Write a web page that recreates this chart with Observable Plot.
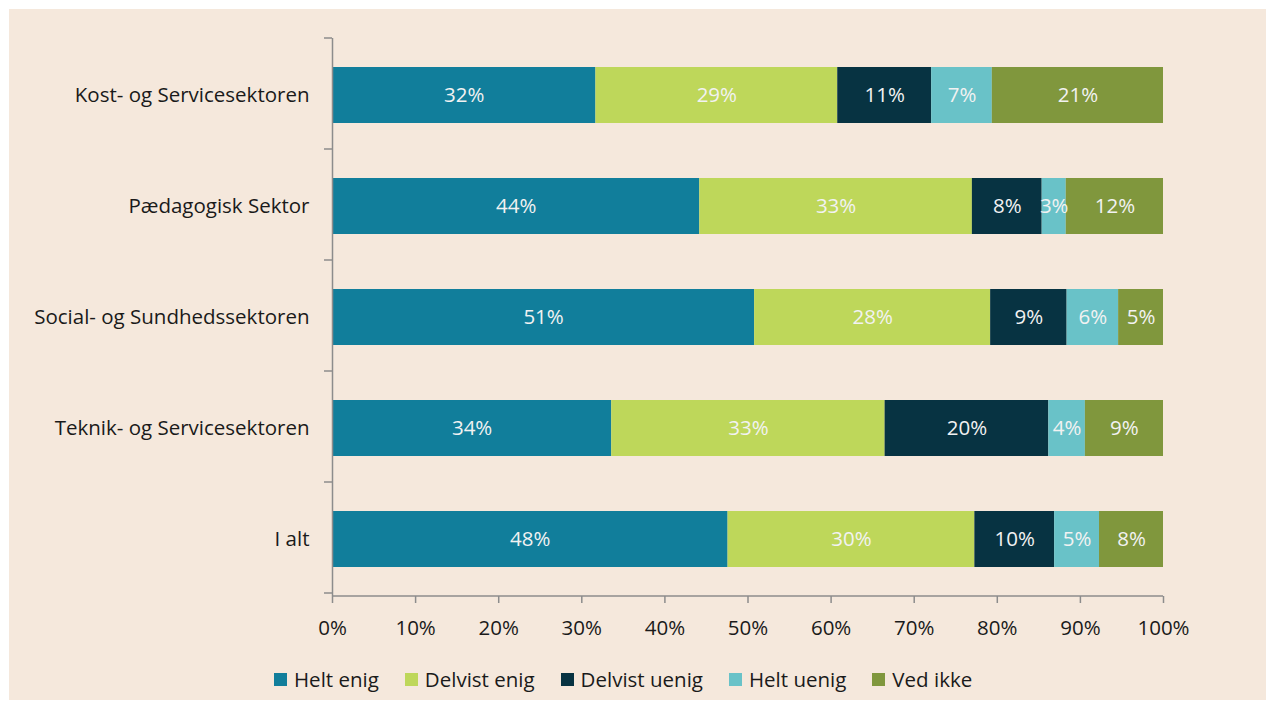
<!DOCTYPE html>
<html>
<head>
<meta charset="utf-8">
<script src="https://cdn.jsdelivr.net/npm/d3@7"></script>
<script src="https://cdn.jsdelivr.net/npm/@observablehq/plot@0.6"></script>
<style>
  html, body { margin: 0; padding: 0; background: #ffffff; }
  #box { position: absolute; left: 9px; top: 9px; width: 1257px; height: 691px; background: #f5e8dc; font-family: "Open Sans", sans-serif; }
  #legend { position: absolute; left: 265px; top: 656px; display: flex; align-items: center; font-size: 20.5px; color: #1a1a1a; }
  .item { display: flex; align-items: center; margin-right: 26px; }
  .sw { width: 13px; height: 13px; margin-right: 7px; }
</style>
</head>
<body>
<div id="box"><div id="chart"></div><div id="legend"></div></div>
<script>
const categories = ["Kost- og Servicesektoren", "Pædagogisk Sektor", "Social- og Sundhedssektoren", "Teknik- og Servicesektoren", "I alt"];
const series = ["Helt enig", "Delvist enig", "Delvist uenig", "Helt uenig", "Ved ikke"];
const heltEnig    = [31.7, 44.2, 50.8, 33.6, 47.6];
const delvistEnig = [29.1, 32.8, 28.4, 32.9, 29.7];
const delvistUenig= [11.3,  8.4,  9.2, 19.7,  9.6];
const heltUenig   = [ 7.3,  2.9,  6.2,  4.4,  5.4];
const vedIkke     = [20.6, 11.7,  5.4,  9.4,  7.7];
const colors = ["#117e9b", "#bed75a", "#073342", "#69c2c8", "#80973d"];
const xTicks = [0, 10, 20, 30, 40, 50, 60, 70, 80, 90, 100];

const seriesValues = [heltEnig, delvistEnig, delvistUenig, heltUenig, vedIkke];
const rows = categories.flatMap((c, i) => series.map((s, j) => ({category: c, series: s, value: seriesValues[j][i]})));

const W = 1257, H = 640, mT = 29, mB = 53, mL = 323, mR = 103;
const axisGray = "#8c8c8c";
const FS = 20.5;

const boundaryTicks = (index, scales, values, dimensions) => {
  const {marginTop, marginBottom, marginLeft, marginRight, height, width} = dimensions;
  const ys = categories.map(c => scales.y(c));
  const step = ys[1] - ys[0];
  const g = d3.create("svg:g").attr("stroke", axisGray).attr("stroke-width", 1.5);
  for (let k = 0; k <= categories.length; k++) {
    const yy = marginTop + k * step;
    g.append("line").attr("x1", marginLeft - 8).attr("x2", marginLeft).attr("y1", yy).attr("y2", yy);
  }
  g.append("line").attr("x1", marginLeft).attr("x2", width - marginRight)
    .attr("y1", height - marginBottom).attr("y2", height - marginBottom);
  return g.node();
};

const chart = Plot.plot({
  width: W, height: H,
  marginTop: mT, marginBottom: mB, marginLeft: mL, marginRight: mR,
  style: {fontFamily: "Open Sans, sans-serif", fontSize: FS + "px", color: "#1a1a1a", background: "transparent", overflow: "visible"},
  x: {domain: [0, 100], label: null},
  y: {domain: categories, paddingInner: 0.5, paddingOuter: 0.25, label: null},
  color: {domain: series, range: colors},
  marks: [
    Plot.barX(rows, Plot.stackX({x: "value", y: "category", fill: "series", z: "series", order: series})),
    Plot.text(rows, Plot.stackX({x: "value", y: "category", z: "series", order: series, text: d => Math.round(d.value) + "%", fill: "#f2f2f2", fontSize: FS})),
    Plot.ruleX([0], {stroke: axisGray, strokeWidth: 1.5}),
    boundaryTicks,
    Plot.axisY({tickSize: 0, tickPadding: 23, fontSize: FS, fill: "#1a1a1a", label: null}),
    Plot.axisX({ticks: xTicks, tickFormat: d => d + "%", tickSize: 7, tickPadding: 17, stroke: axisGray, strokeWidth: 1.5, fill: "#1a1a1a", fontSize: FS, label: null})
  ]
});
document.getElementById("chart").appendChild(chart);

const legend = document.getElementById("legend");
series.forEach((s, j) => {
  const it = document.createElement("div");
  it.className = "item";
  it.innerHTML = `<span class="sw" style="background:${colors[j]}"></span><span>${s}</span>`;
  legend.appendChild(it);
});
</script>
</body>
</html>
